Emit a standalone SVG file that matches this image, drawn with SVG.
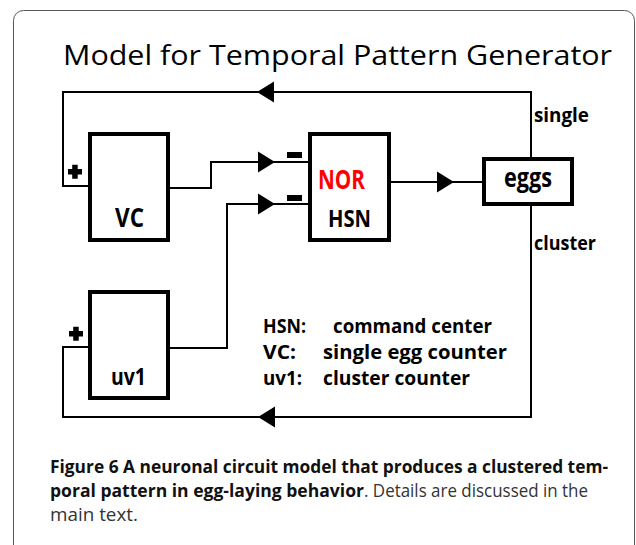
<svg xmlns="http://www.w3.org/2000/svg" xmlns:xlink="http://www.w3.org/1999/xlink" width="636" height="545" viewBox="0 0 636 545">
<style>
  .frame{fill:none;stroke:#555;stroke-width:1}
  .box{fill:#fff;stroke:#000;stroke-width:4}
  .wire{fill:none;stroke:#000;stroke-width:2;stroke-linejoin:miter}
  .head{fill:#000}
  .lbl{font-family:"Open Sans","Liberation Sans",sans-serif;font-weight:bold;fill:#000}
  .title{font-family:"Open Sans","Liberation Sans",sans-serif;font-size:28px;fill:#000}
  .cap{font-family:"Open Sans","Liberation Sans",sans-serif;font-size:17.5px}
  .capb{font-weight:bold;fill:#111}
  .capr{fill:#333}
  .sign{fill:#000}
</style>
<defs>
  <path id="arrR" d="M0,-10.5 L17,0 L0,10.5 Z"/>
  <path id="arrL" d="M0,0 L17,-10.5 L17,10.5 Z"/>
</defs>
<rect class="frame" x="13.5" y="10.5" width="621" height="600" rx="10"/>
<text class="title" x="63" y="65" textLength="549" lengthAdjust="spacingAndGlyphs">Model for Temporal Pattern Generator</text>

<g id="connectors">
  <polyline class="wire" points="531,157 531,92 63,92 63,186 88,186"/>
  <polyline class="wire" points="531,206 531,417 63,417 63,347 88,347"/>
  <polyline class="wire" points="170,188 211,188 211,162 308,162"/>
  <polyline class="wire" points="170,348 227,348 227,204 308,204"/>
  <line class="wire" x1="391" y1="182" x2="482" y2="182"/>
  <use class="head" xlink:href="#arrL" x="257" y="92"/>
  <use class="head" xlink:href="#arrL" x="258" y="417"/>
  <use class="head" xlink:href="#arrR" x="258" y="162"/>
  <use class="head" xlink:href="#arrR" x="258" y="204"/>
  <use class="head" xlink:href="#arrR" x="437" y="182"/>
  <rect class="sign" x="287" y="152" width="15" height="6"/>
  <rect class="sign" x="287" y="195" width="15" height="6"/>
  <path class="sign" d="M68,169 h14 v5.5 h-14 z M72.2,164.8 h5.5 v14 h-5.5 z"/>
  <path class="sign" d="M69,331 h14 v5.5 h-14 z M73.2,326.8 h5.5 v14 h-5.5 z"/>
  <text class="lbl" x="534" y="122" font-size="20" textLength="55" lengthAdjust="spacingAndGlyphs">single</text>
  <text class="lbl" x="534" y="250" font-size="20" textLength="62" lengthAdjust="spacingAndGlyphs">cluster</text>
</g>

<g id="node-vc">
  <rect class="box" x="90" y="134" width="78" height="106"/>
  <text class="lbl" x="115" y="227" font-size="26" textLength="29" lengthAdjust="spacingAndGlyphs">VC</text>
</g>
<g id="node-hsn">
  <rect class="box" x="310" y="134" width="79" height="106"/>
  <text class="lbl" x="318" y="189" font-size="26" style="fill:#ff0000" textLength="47" lengthAdjust="spacingAndGlyphs">NOR</text>
  <text class="lbl" x="328" y="227" font-size="24" textLength="43" lengthAdjust="spacingAndGlyphs">HSN</text>
</g>
<g id="node-eggs">
  <rect class="box" x="484" y="159" width="88" height="45"/>
  <text class="lbl" x="504" y="187" font-size="26" textLength="48" lengthAdjust="spacingAndGlyphs">eggs</text>
</g>
<g id="node-uv1">
  <rect class="box" x="90" y="292" width="78" height="106"/>
  <text class="lbl" x="111" y="385" font-size="24" textLength="35" lengthAdjust="spacingAndGlyphs">uv1</text>
</g>

<g id="legend">
  <text class="lbl" x="263" y="333" font-size="19" textLength="43" lengthAdjust="spacingAndGlyphs">HSN:</text>
  <text class="lbl" x="333" y="333" font-size="19" textLength="159" lengthAdjust="spacingAndGlyphs">command center</text>
  <text class="lbl" x="263" y="359" font-size="19" textLength="33" lengthAdjust="spacingAndGlyphs">VC:</text>
  <text class="lbl" x="323" y="359" font-size="19" textLength="184" lengthAdjust="spacingAndGlyphs">single egg counter</text>
  <text class="lbl" x="263" y="385" font-size="19" textLength="39" lengthAdjust="spacingAndGlyphs">uv1:</text>
  <text class="lbl" x="323" y="385" font-size="19" textLength="147" lengthAdjust="spacingAndGlyphs">cluster counter</text>
</g>

<g id="caption">
  <text class="cap capb" x="50" y="473" textLength="558" lengthAdjust="spacingAndGlyphs">Figure 6 A neuronal circuit model that produces a clustered tem-</text>
  <text class="cap capb" x="50" y="497" textLength="314" lengthAdjust="spacingAndGlyphs">poral pattern in egg-laying behavior</text>
  <text class="cap capr" x="364" y="497" textLength="224" lengthAdjust="spacingAndGlyphs">. Details are discussed in the</text>
  <text class="cap capr" x="50" y="521" textLength="88" lengthAdjust="spacingAndGlyphs">main text.</text>
</g>
</svg>
